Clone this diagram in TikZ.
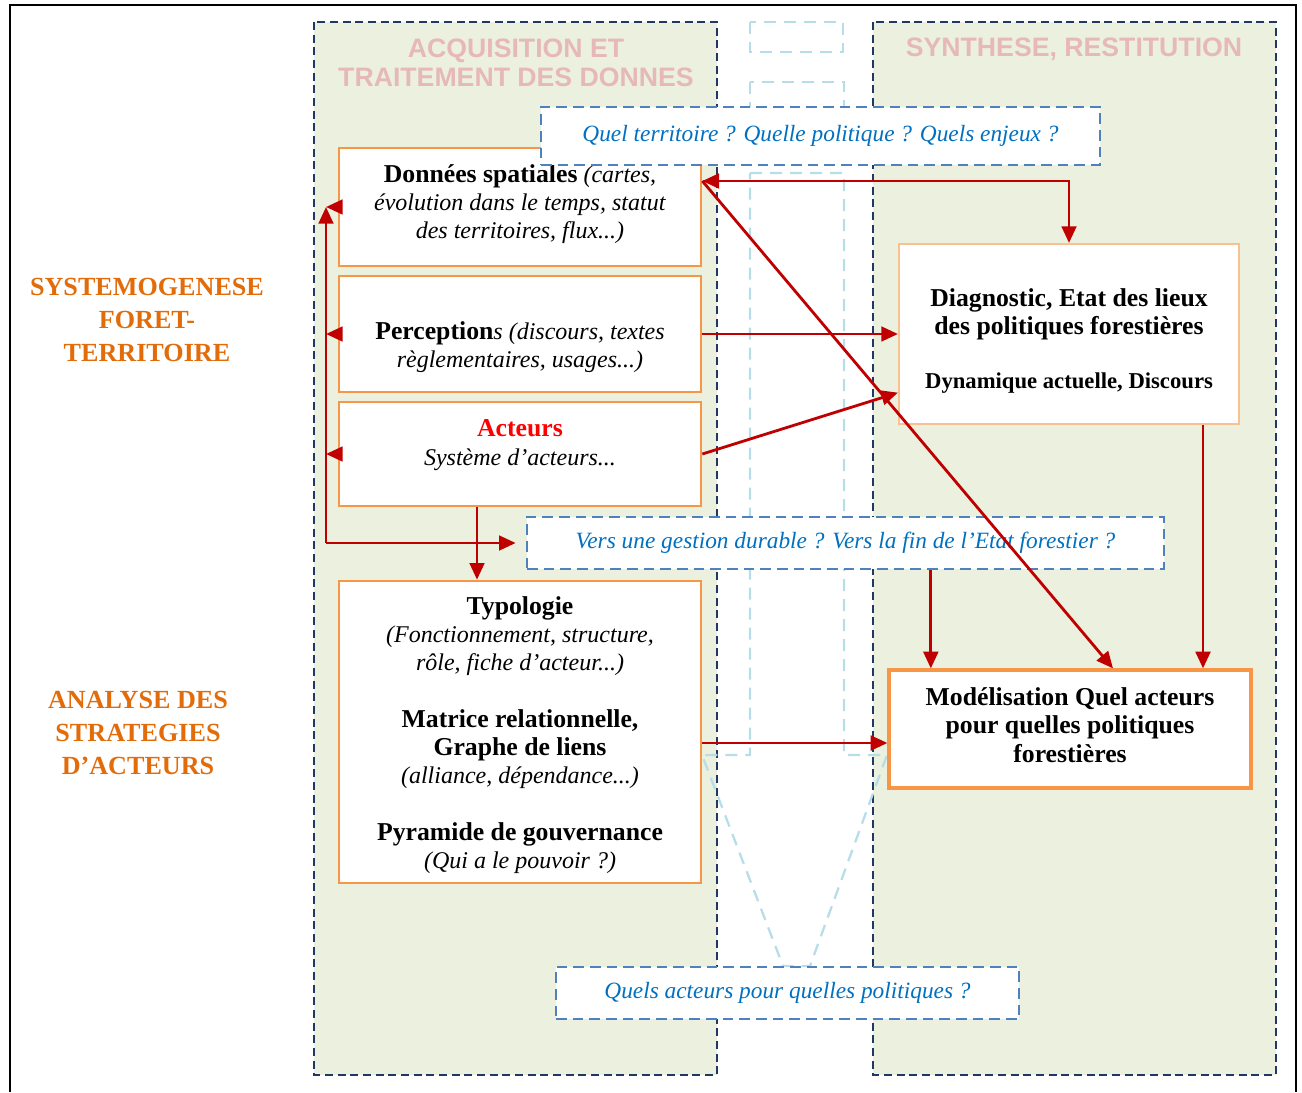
\documentclass[tikz,border=0pt]{standalone}
\usepackage{fontspec}
\setmainfont{Liberation Serif}
\setsansfont{Liberation Sans}
\usetikzlibrary{arrows.meta}

\definecolor{panelgreen}{HTML}{EBF1DE}
\definecolor{paneldash}{HTML}{1F3864}
\definecolor{ghostblue}{HTML}{B7DDE8}
\definecolor{qblue}{HTML}{4F81BD}
\definecolor{qtext}{HTML}{0070C0}
\definecolor{boxorange}{HTML}{F79646}
\definecolor{lightorange}{HTML}{FAC090}
\definecolor{arrowred}{HTML}{C00000}
\definecolor{titlepink}{HTML}{E6B9B8}
\definecolor{sideorange}{HTML}{E36C0A}

\newcommand{\boxfont}{\fontsize{18}{21.2}\selectfont}
\newcommand{\qfont}{\fontsize{17.5}{21}\selectfont\itshape}
\newcommand{\bx}[1]{{\fontsize{19.3}{21.2}\selectfont\bfseries #1}}

\begin{document}
\begin{tikzpicture}[x=0.75pt, y=-0.75pt,
    panel/.style={fill=panelgreen, draw=paneldash, line width=1.9pt, dash pattern=on 6pt off 3.5pt},
    ghost/.style={draw=ghostblue, line width=1.7pt, dash pattern=on 9pt off 6pt},
    obox/.style={draw=boxorange, fill=white, line width=2pt, inner sep=0pt, minimum width=271.5pt, align=center, font=\boxfont},
    btext/.style={align=center, font=\boxfont, inner sep=0pt},
    qbox/.style={draw=qblue, fill=white, line width=2pt, dash pattern=on 8pt off 4.5pt, inner sep=0pt, font=\qfont, text=qtext},
    title/.style={align=center, font=\fontsize{20}{21.75}\selectfont\sffamily\bfseries, text=titlepink, inner sep=0pt},
    side/.style={align=center, font=\fontsize{19.6}{25}\selectfont\bfseries, text=sideorange, inner sep=0pt},
    flow/.style={draw=arrowred, line width=2.1pt, -{Triangle[length=12.5pt,width=11pt]}},
    flowboth/.style={draw=arrowred, line width=2.1pt, {Triangle[length=12.5pt,width=11pt]}-{Triangle[length=12.5pt,width=11pt]}}
]
    \useasboundingbox (0,0) rectangle (1302,1092);
    \draw[line width=1.5pt] (10,1092) -- (10,5) -- (1296,5) -- (1296,1092);

    % Panels
    \draw[panel] (314,22) rectangle (717,1075);
    \draw[panel] (873,22) rectangle (1276,1075);

    % Background arrow in the middle
    \draw[ghost] (750,22) rectangle (843,52);
    \draw[ghost] (750,82) rectangle (844,150);
    \draw[ghost] (750,173) -- (844,173) -- (844,755) -- (887,755) -- (810,966)
        -- (783,966) -- (702,755) -- (750,755) -- cycle;

    % Titles
    \node[title] (acq) at (516,63) {ACQUISITION ET\\TRAITEMENT DES DONNES};
    \node[title] (synth) at (1074,49) {SYNTHESE, RESTITUTION};
    \node[side] (systemo) at (147,320) {SYSTEMOGENESE\\FORET-\\TERRITOIRE};
    \node[side] (analyse) at (138,733) {ANALYSE DES\\STRATEGIES\\D’ACTEURS};

    % Nodes
    \node[obox, minimum height=88.5pt] (donnees) at (520,207) {};
    \node[btext] (donneestxt) at (520,204)
        {\bx{Données spatiales} \textit{(cartes,}\\ \textit{évolution dans le temps, statut}\\ \textit{des territoires, flux...)}};
    \node[obox, minimum height=87pt] (percep) at (520,334) {};
    \node[btext] (perceptxt) at (520,347) {\bx{Perception}\textit{s (discours, textes}\\ \textit{règlementaires, usages...)}};
    \node[obox, minimum height=78pt] (acteurs) at (520,454) {};
    \node[btext] (acteurstxt) at (520,445) {\bx{\color{red}Acteurs}\\ \textit{Système d’acteurs...}};
    \node[obox, minimum height=226.5pt] (typo) at (520,732) {};
    \node[btext] (typotxt) at (520,735)
        {\bx{Typologie}\\ \textit{(Fonctionnement, structure,}\\ \textit{rôle, fiche d’acteur...)}\\[21.2pt]
         \bx{Matrice relationnelle,}\\ \bx{Graphe de liens}\\ \textit{(alliance, dépendance...)}\\[21.2pt]
         \bx{Pyramide de gouvernance}\\ \textit{(Qui a le pouvoir ?)}};
    \node[obox, draw=lightorange, line width=1.6pt, minimum width=255pt, minimum height=135pt] (diag) at (1069,334) {};
    \node[btext] (diagtxt) at (1069,341)
        {\bx{Diagnostic, Etat des lieux}\\ \bx{des politiques forestières}\\[19pt] {\fontsize{17}{21}\selectfont\textbf{Dynamique actuelle, Discours}}};
    \node[obox, line width=2.4pt, minimum height=88.5pt] (model) at (1070,729) {};
    \node[btext] (modeltxt) at (1070,725)
        {\bx{Modélisation Quel acteurs}\\ \bx{pour quelles politiques}\\ \bx{forestières}};

    % Questions
    \node[qbox, minimum width=419.25pt, minimum height=43.5pt] (quel) at (820.5,136) {Quel territoire ? Quelle politique ? Quels enjeux ?};
    \node[qbox, minimum width=477.75pt, minimum height=39pt] (vers) at (845.5,543) {Vers une gestion durable ? Vers la fin de l’Etat forestier ?};
    \node[qbox, minimum width=347.25pt, minimum height=39pt] (quels) at (787.5,993) {Quels acteurs pour quelles politiques ?};

    % Arrows
    \coordinate (bus) at (326,543);
    \draw[flowboth] ([yshift=19.5pt]donnees.east) -| (diag.north);
    \draw[flow] ([yshift=19.5pt]donnees.east) -- ([xshift=32.25pt]model.north);
    \draw[flow] (percep.east) -- (percep.east -| diag.west);
    \draw[flow] (acteurs.east) -- ([yshift=-44pt]diag.west);
    \draw[flow] ([xshift=100.5pt]diag.south) -- ([xshift=100.5pt]diag.south |- model.north);
    \draw[flow] ([xshift=64pt]vers.south) -- ([xshift=64pt]vers.south |- model.north);
    \draw[flow] ([yshift=-8.25pt]typo.east) -- ([yshift=-8.25pt]typo.east -| model.west);
    \draw[flow] ([xshift=-32.25pt]acteurs.south) -- ([xshift=-32.25pt]acteurs.south |- typo.north);
    \draw[flow] (donnees.west) -- (donnees.west -| bus);
    \draw[flow] (percep.west) -- (percep.west -| bus);
    \draw[flow] (acteurs.west) -- (acteurs.west -| bus);
    \draw[flow] (bus) -- (bus |- donnees.west);
    \draw[flow, shorten >=7.5pt] (bus) -- (bus -| vers.west);
\end{tikzpicture}
\end{document}
